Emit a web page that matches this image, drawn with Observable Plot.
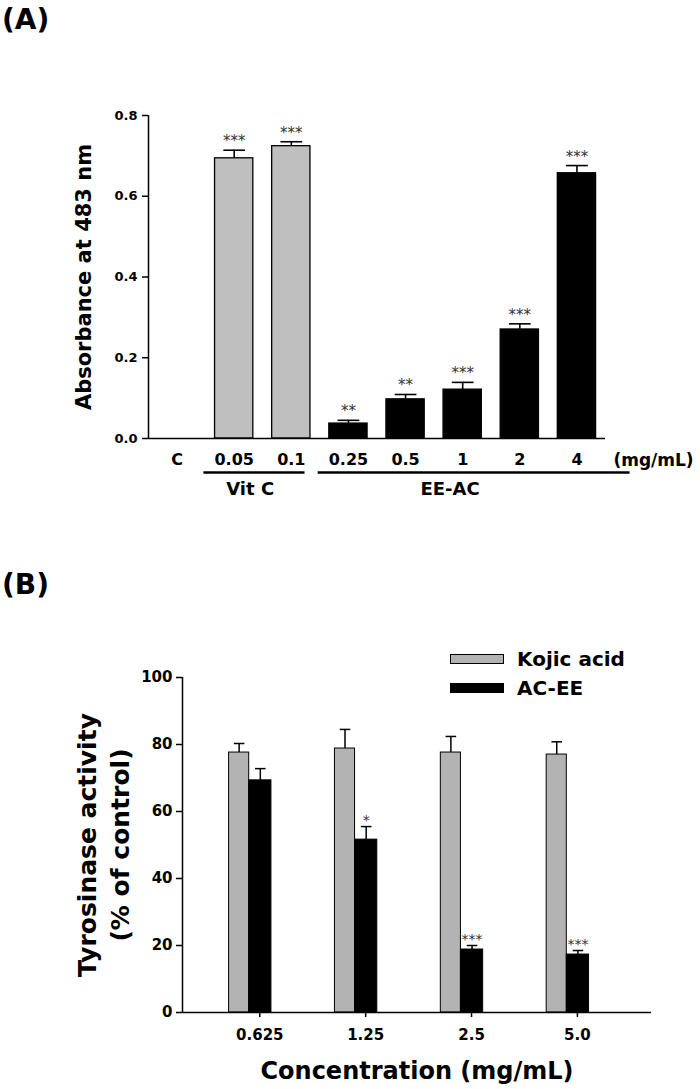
<!DOCTYPE html>
<html>
<head>
<meta charset="utf-8">
<script src="https://cdn.jsdelivr.net/npm/d3@7"></script>
<script src="https://cdn.jsdelivr.net/npm/@observablehq/plot@0.6"></script>
<style>
  body { margin: 0; background: #fff; }
  #wrap { position: relative; width: 700px; height: 1089px; font-family: "DejaVu Sans", sans-serif; font-weight: bold; color: #000; overflow: hidden; }
  .panel { position: absolute; left: 0; }
  .tag { position: absolute; left: 2px; font-size: 28px; line-height: 1; }
  .sw { position: absolute; box-sizing: border-box; border: 1px solid #000; }
  .lt { position: absolute; font-size: 20px; line-height: 20px; white-space: nowrap; }
</style>
</head>
<body>
<div id="wrap"></div>
<script>
// ---------- Panel A data ----------
const catsA   = ["C", "0.05", "0.1", "0.25", "0.5", "1", "2", "4"];
const groupA  = ["Control", "Vit C", "Vit C", "EE-AC", "EE-AC", "EE-AC", "EE-AC", "EE-AC"];
const valuesA = [0, 0.694, 0.724, 0.037, 0.097, 0.121, 0.270, 0.657];
const errA    = [0, 0.020, 0.011, 0.008, 0.012, 0.018, 0.014, 0.019];
const sigA    = ["", "***", "***", "**", "**", "***", "***", "***"];
const ticksA  = [0, 0.2, 0.4, 0.6, 0.8];
const groupLabelsA = ["Vit C", "EE-AC"];
const groupFirstA  = ["0.05", "0.25"];
const groupLastA   = ["0.1", "4"];
const unitA   = "(mg/mL)";
const yLabelA = "Absorbance at 483 nm";

// ---------- Panel B data ----------
const concB    = ["0.625", "1.25", "2.5", "5.0"];
const seriesB  = ["Kojic acid", "AC-EE"];
const kojicB   = [77.6, 78.8, 77.6, 77.0];
const kojicErr = [2.7, 5.7, 4.8, 3.8];
const aceeB    = [69.3, 51.6, 18.8, 17.3];
const aceeErr  = [3.5, 3.9, 1.2, 1.2];
const kojicSig = ["", "", "", ""];
const aceeSig  = ["", "*", "***", "***"];
const ticksB   = [0, 20, 40, 60, 80, 100];
const xTitleB  = "Concentration (mg/mL)";
const yLabelB  = "Tyrosinase activity\n(% of control)";

// ---------- styles ----------
const GRAY_A = "#bfbfbf";
const GRAY_B = "#b3b3b3";
const fillA = {"Vit C": GRAY_A, "EE-AC": "#000"};
const fillB = {"Kojic acid": GRAY_B, "AC-EE": "#000"};
const svgStyle = {fontFamily: "DejaVu Sans", fontWeight: "bold", background: "white", color: "black", overflow: "visible"};

const wrap = document.getElementById("wrap");

// ---------- Panel A ----------
const dataA = catsA.map((c, i) => ({i, cat: c, group: groupA[i], value: valuesA[i], err: errA[i], sig: sigA[i]}));
const barsA = dataA.filter(d => d.value > 0);
const groupsA = groupLabelsA.map((label, k) => {
  const f = catsA.indexOf(groupFirstA[k]);
  const l = catsA.indexOf(groupLastA[k]);
  const last = k === groupLabelsA.length - 1;
  return {label, x1: f - 0.53, x2: l + (last ? 0.93 : 0.24), mid: (f + l) / 2 - 0.22};
});

const plotA = Plot.plot({
  width: 700, height: 510,
  marginLeft: 148, marginRight: 95, marginTop: 115, marginBottom: 72,
  style: svgStyle,
  x: {domain: [-0.5, catsA.length - 0.5], label: null},
  y: {domain: [0, 0.8], label: null},
  marks: [
    Plot.rectY(barsA, {x1: d => d.i - 0.335, x2: d => d.i + 0.335, y: "value", fill: d => fillA[d.group], stroke: "black", strokeWidth: 1.3}),
    Plot.ruleX(barsA, {x: "i", y1: "value", y2: d => d.value + d.err, stroke: "black", strokeWidth: 1.6}),
    Plot.link(barsA, {x1: d => d.i - 0.19, x2: d => d.i + 0.19, y1: d => d.value + d.err, y2: d => d.value + d.err, stroke: "black", strokeWidth: 1.6}),
    Plot.text(barsA, {x: "i", y: d => d.value + d.err, text: "sig", lineAnchor: "bottom", dy: -4, fontSize: 15, fontWeight: "normal", fill: "#333"}),
    Plot.ruleX([-0.5], {stroke: "black", strokeWidth: 1.5}),
    Plot.ruleY([0], {stroke: "black", strokeWidth: 1.5}),
    Plot.axisY({ticks: ticksA, tickFormat: d3.format(".1f"), tickSize: 6, tickPadding: 5, fontSize: 13, strokeWidth: 1.5, label: null}),
    Plot.axisX({ticks: d3.range(catsA.length), tickFormat: i => catsA[i], tickSize: 0, tickPadding: 15, fontSize: 16, label: null}),
    Plot.text([unitA], {text: d => d, frameAnchor: "bottom-right", textAnchor: "middle", lineAnchor: "top", dx: 48, dy: 15, fontSize: 17}),
    Plot.ruleY(groupsA, {y: () => 0, x1: "x1", x2: "x2", dy: 34, stroke: "black", strokeWidth: 2.5}),
    Plot.text(groupsA, {x: "mid", y: () => 0, text: "label", dy: 56, lineAnchor: "bottom", textAnchor: "middle", fontSize: 18}),
    Plot.text([yLabelA], {text: d => d, frameAnchor: "left", textAnchor: "middle", lineAnchor: "middle", rotate: -90, dx: -64, fontSize: 21})
  ]
});
plotA.classList.add("panel");
plotA.style.top = "0px";
wrap.appendChild(plotA);

// ---------- Panel B ----------
const dataB = [];
concB.forEach((c, i) => {
  seriesB.forEach((s, k) => {
    const v = k === 0 ? kojicB[i] : aceeB[i];
    const e = k === 0 ? kojicErr[i] : aceeErr[i];
    const sig = k === 0 ? kojicSig[i] : aceeSig[i];
    const x1 = k === 0 ? i - 0.29 : i - 0.1;
    const x2 = k === 0 ? i - 0.1 : i + 0.11;
    dataB.push({i, conc: c, series: s, value: v, err: e, sig, x1, x2, xc: (x1 + x2) / 2});
  });
});

const plotB = Plot.plot({
  width: 700, height: 579,
  marginLeft: 182, marginRight: 49, marginTop: 167, marginBottom: 77,
  style: svgStyle,
  x: {domain: [-0.73, 3.70], label: null},
  y: {domain: [0, 100], label: null},
  marks: [
    Plot.rectY(dataB, {x1: "x1", x2: "x2", y: "value", fill: d => fillB[d.series], stroke: "black", strokeWidth: 1}),
    Plot.ruleX(dataB, {x: "xc", y1: "value", y2: d => d.value + d.err, stroke: "black", strokeWidth: 1.5}),
    Plot.link(dataB, {x1: d => d.xc - 0.05, x2: d => d.xc + 0.05, y1: d => d.value + d.err, y2: d => d.value + d.err, stroke: "black", strokeWidth: 1.5}),
    Plot.text(dataB.filter(d => d.sig), {x: "xc", y: d => d.value + d.err, text: "sig", lineAnchor: "bottom", dy: -2, fontSize: 14, fontWeight: "normal", fill: "#333"}),
    Plot.ruleX([-0.73], {stroke: "black", strokeWidth: 1.5}),
    Plot.ruleY([0], {stroke: "black", strokeWidth: 1.5}),
    Plot.axisY({ticks: ticksB, tickSize: 6, tickPadding: 4, fontSize: 15, strokeWidth: 1.5, label: null}),
    Plot.axisX({ticks: d3.range(concB.length), tickFormat: i => concB[i], tickSize: 5, tickPadding: 12, fontSize: 15, strokeWidth: 1.5, label: null}),
    Plot.text([xTitleB], {text: d => d, frameAnchor: "bottom", textAnchor: "middle", lineAnchor: "bottom", dy: 66, fontSize: 24}),
    Plot.text([yLabelB], {text: d => d, frameAnchor: "left", textAnchor: "middle", lineAnchor: "middle", rotate: -90, dx: -81, fontSize: 25, lineHeight: 1.32})
  ]
});
plotB.classList.add("panel");
plotB.style.top = "510px";
wrap.appendChild(plotB);

// ---------- panel tags ----------
[["(A)", 6], ["(B)", 571]].forEach(([t, top]) => {
  const d = document.createElement("div");
  d.className = "tag";
  d.style.top = top + "px";
  d.textContent = t;
  wrap.appendChild(d);
});

// ---------- legend for panel B ----------
seriesB.forEach((s, k) => {
  const cy = k === 0 ? 658.5 : 688;
  const sw = document.createElement("div");
  sw.className = "sw";
  sw.style.left = "450px";
  sw.style.top = (cy - 5) + "px";
  sw.style.width = "54px";
  sw.style.height = "10px";
  sw.style.background = fillB[s];
  wrap.appendChild(sw);
  const lt = document.createElement("div");
  lt.className = "lt";
  lt.style.left = "517px";
  lt.style.top = (cy - 10) + "px";
  lt.textContent = s;
  wrap.appendChild(lt);
});
</script>
</body>
</html>
